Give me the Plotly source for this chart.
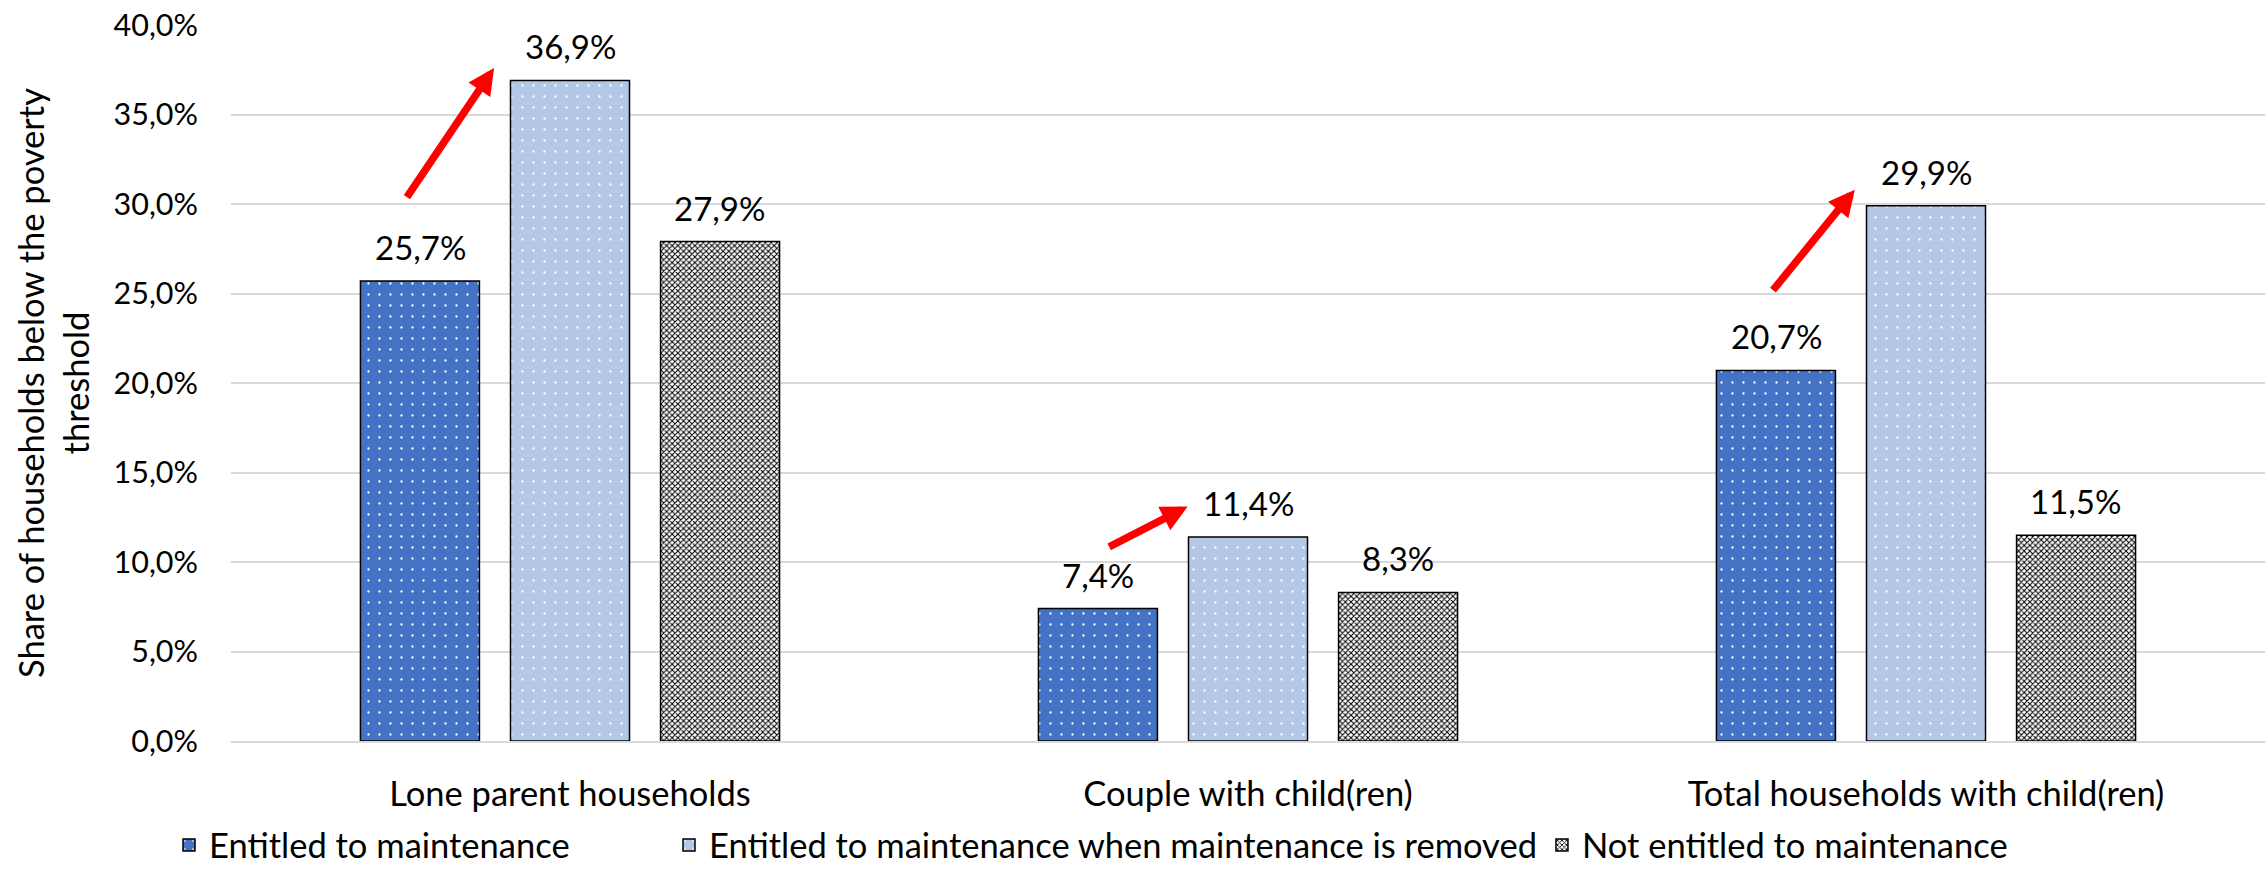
import plotly.graph_objects as go

categories = ["Lone parent households", "Couple with child(ren)", "Total households with child(ren)"]
series_names = [
    "Entitled to maintenance",
    "Entitled to maintenance when maintenance is removed",
    "Not entitled to maintenance",
]
entitled = [25.7, 7.4, 20.7]
entitled_removed = [36.9, 11.4, 29.9]
not_entitled = [27.9, 8.3, 11.5]
y_ticks = [0, 5, 10, 15, 20, 25, 30, 35, 40]
y_tick_labels = ["0,0%", "5,0%", "10,0%", "15,0%", "20,0%", "25,0%", "30,0%", "35,0%", "40,0%"]

# arrows: (tail_x, tail_y, head_x, head_y) in data coordinates
arrow_tail_x = [-0.242, 0.793, 1.7725]
arrow_tail_y = [30.3, 10.8, 25.1]
arrow_head_x = [-0.112, 0.911, 1.895]
arrow_head_y = [37.6, 13.1, 30.8]

FONT = "Lato"
W, H = 2265, 874
values = [entitled, entitled_removed, not_entitled]
fill_colors = ["#4472C4", "#B4C7E7", "#FFFFFF"]
patterns = [
    dict(shape=".", fgcolor="#FFFFFF", bgcolor="#4472C4", size=11, solidity=0.035, fillmode="replace"),
    dict(shape=".", fgcolor="#FFFFFF", bgcolor="#B4C7E7", size=11, solidity=0.035, fillmode="replace"),
    dict(shape="x", fgcolor="#000000", bgcolor="#FFFFFF", size=4, solidity=0.45, fillmode="replace"),
]
legend_refs = ["legend", "legend2", "legend2"]

fig = go.Figure()
for name, vals, col, pat, lg in zip(series_names, values, fill_colors, patterns, legend_refs):
    fig.add_trace(go.Bar(
        x=categories, y=vals, name=name, legend=lg,
        marker=dict(color=col, line=dict(color="#000000", width=1.5), pattern=pat),
    ))

BAR_PITCH = 0.2212
annotations = []
for j, vals in enumerate(values):
    for i, v in enumerate(vals):
        annotations.append(dict(
            x=i + (j - 1) * BAR_PITCH, y=v, xref="x", yref="y",
            text=f"{v:.1f}%".replace(".", ","), showarrow=False,
            yanchor="bottom", yshift=12,
            font=dict(family=FONT, size=33, color="#000000"),
        ))

for tx, ty, hx, hy in zip(arrow_tail_x, arrow_tail_y, arrow_head_x, arrow_head_y):
    annotations.append(dict(
        x=hx, y=hy, ax=tx, ay=ty, xref="x", yref="y", axref="x", ayref="y",
        text="", showarrow=True, arrowhead=2, arrowsize=0.7, arrowwidth=7.5,
        arrowcolor="#FF0000", standoff=0, startstandoff=0,
    ))

annotations.append(dict(
    text="Share of households below the poverty<br>threshold",
    xref="paper", yref="paper", x=0, y=0.5, xshift=-178,
    xanchor="center", yanchor="middle", textangle=-90, showarrow=False,
    font=dict(family=FONT, size=34.5, color="#000000"),
))

legend_style = dict(orientation="h", xref="container", yref="container",
                    xanchor="left", yanchor="bottom", y=0,
                    font=dict(family=FONT, size=34.5, color="#000000"),
                    traceorder="normal", itemwidth=30, bgcolor="rgba(0,0,0,0)")

fig.update_layout(
    width=W, height=H,
    margin=dict(l=231, r=0, t=25, b=133, autoexpand=False),
    paper_bgcolor="white", plot_bgcolor="white",
    barmode="group", bargap=0.336, bargroupgap=0.207,
    font=dict(family=FONT, size=34.5, color="#000000"),
    showlegend=True,
    legend=dict(legend_style, x=(185 - 16) / W),
    legend2=dict(legend_style, x=(690 - 21) / W),
    annotations=annotations,
)
fig.update_yaxes(range=[0, 40], tickvals=y_ticks, ticktext=y_tick_labels,
                 showgrid=True, gridcolor="#D9D9D9", gridwidth=2, zeroline=False,
                 showline=False, ticks="", ticklabelstandoff=32,
                 tickfont=dict(family=FONT, size=30.5, color="#000000"))
fig.update_xaxes(showline=True, linecolor="#D9D9D9", linewidth=2, ticks="",
                 ticklabelstandoff=22,
                 tickfont=dict(family=FONT, size=34.5, color="#000000"))

fig.write_html("out.html")
